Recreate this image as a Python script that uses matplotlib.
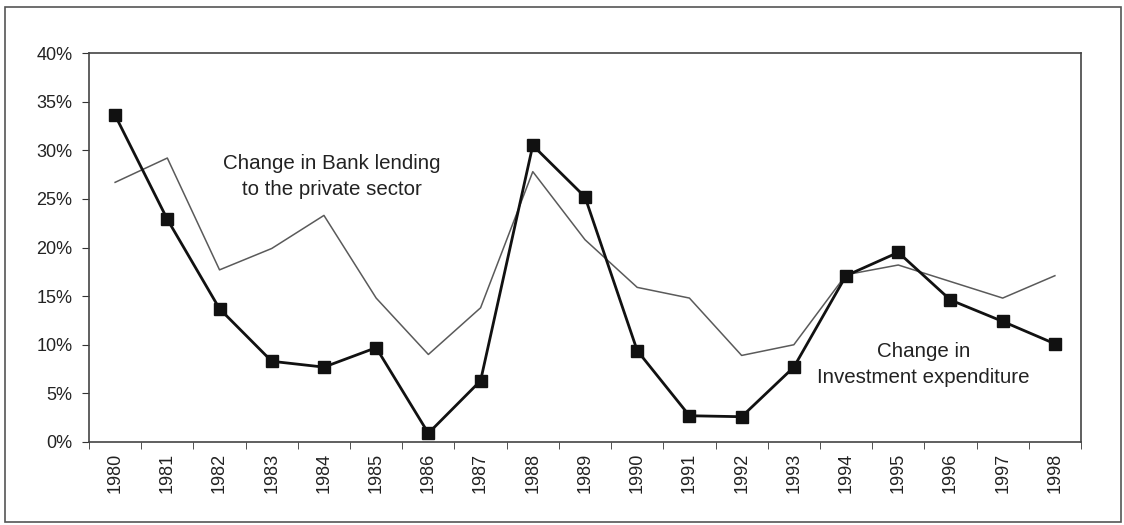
import matplotlib
matplotlib.use("Agg")
import matplotlib.pyplot as plt
from matplotlib.patches import Rectangle
from matplotlib.ticker import PercentFormatter, FixedLocator

plt.rcParams['font.family'] = ['Liberation Sans', 'DejaVu Sans']

years = [str(y) for y in range(1980, 1999)]
investment = [33.6, 22.9, 13.7, 8.3, 7.7, 9.7, 0.9, 6.3, 30.5, 25.2,
              9.4, 2.7, 2.6, 7.7, 17.1, 19.5, 14.6, 12.4, 10.1]
lending = [26.7, 29.2, 17.7, 19.9, 23.3, 14.8, 9.0, 13.8, 27.8, 20.8,
           15.9, 14.8, 8.9, 10.0, 17.2, 18.2, 16.5, 14.8, 17.1]

W, H = 1124, 525
fig = plt.figure(figsize=(W / 100, H / 100), dpi=100)
ax = fig.add_axes([89 / W, 1 - 442 / H, (1081 - 89) / W, (442 - 53) / H])

x = list(range(len(years)))
ax.plot(x, lending, color='#5a5a5a', lw=1.1)
ax.plot(x, investment, color='#111111', lw=2.0, marker='s', markersize=9,
        markerfacecolor='#111111', markeredgecolor='#111111')

ax.set_xlim(-0.5, len(years) - 0.5)
ax.set_ylim(0, 40)
ax.set_yticks(range(0, 41, 5))
ax.yaxis.set_major_formatter(PercentFormatter(decimals=0))
ax.set_xticks(x)
ax.set_xticklabels(years, rotation=90)
ax.xaxis.set_minor_locator(FixedLocator([i - 0.5 for i in range(len(years) + 1)]))
ax.tick_params(axis='x', which='major', length=0, pad=8, labelsize=13, labelcolor='#222222')
ax.tick_params(axis='x', which='minor', length=5, direction='out', color='#333333')
ax.tick_params(axis='y', length=5, direction='out', labelsize=13, pad=7,
               color='#333333', labelcolor='#222222')

for s in ax.spines.values():
    s.set_color('#444444')
    s.set_linewidth(1.2)

ax.text(4.15, 27.3, 'Change in Bank lending\nto the private sector',
        ha='center', va='center', fontsize=14.8, linespacing=1.45, color='#222222')
ax.text(15.48, 8.0, 'Change in\nInvestment expenditure',
        ha='center', va='center', fontsize=14.8, linespacing=1.45, color='#222222')

fig.patches.append(Rectangle((5 / W, 3 / H), 1116 / W, 515 / H,
                             transform=fig.transFigure, fill=False,
                             edgecolor='#555555', lw=1.2))

fig.savefig('out.png', dpi=100)
